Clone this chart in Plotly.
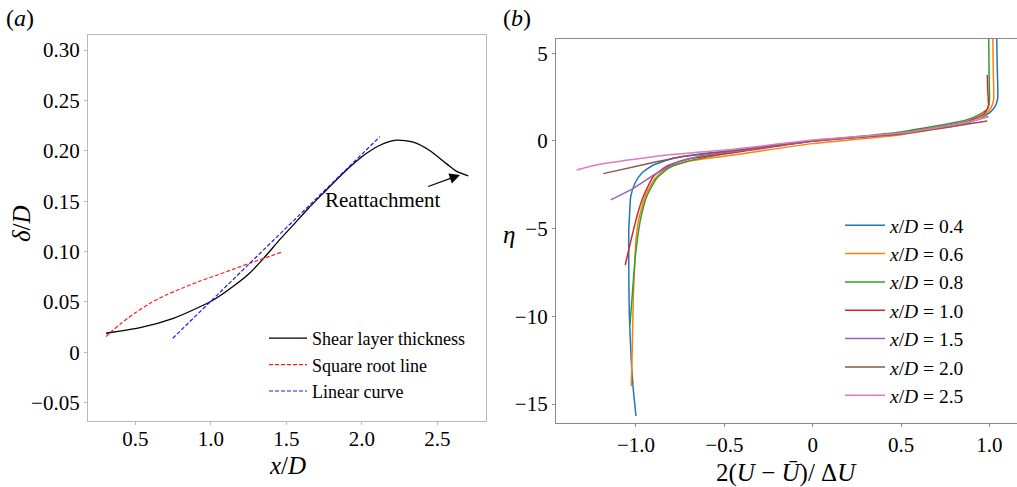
import plotly.graph_objects as go

# ---- Panel (a): shear layer thickness ----
thick_x = [0.306, 0.532, 0.752, 0.907, 1.017, 1.149, 1.26, 1.348, 1.458, 1.55,
           1.644, 1.745, 1.878, 1.96, 2.032, 2.12, 2.231, 2.341, 2.452, 2.562, 2.628, 2.705]
thick_y = [0.0189, 0.0244, 0.0337, 0.0437, 0.0519, 0.0655, 0.0790, 0.0930, 0.112, 0.127,
           0.1425, 0.158, 0.178, 0.189, 0.1975, 0.2055, 0.2105, 0.2085, 0.200, 0.187, 0.1795, 0.175]
sqrt_x = [0.306, 0.35, 0.399, 0.45, 0.5, 0.597, 0.7, 0.818, 0.92, 1.039, 1.15, 1.259, 1.37, 1.476]
sqrt_y = [0.0155, 0.0217, 0.0278, 0.0338, 0.0392, 0.0486, 0.0566, 0.0641, 0.0702, 0.0765,
          0.0825, 0.0885, 0.0942, 0.0998]
lin_x = [0.748, 2.12]
lin_y = [0.0139, 0.214]

a_xticks = [0.5, 1.0, 1.5, 2.0, 2.5]
a_xtext = ["0.5", "1.0", "1.5", "2.0", "2.5"]
a_yticks = [-0.05, 0, 0.05, 0.10, 0.15, 0.20, 0.25, 0.30]
a_ytext = ["\u22120.05", "0", "0.05", "0.10", "0.15", "0.20", "0.25", "0.30"]

# ---- Panel (b): normalised velocity profiles ----
labels_b = ["0.4", "0.6", "0.8", "1.0", "1.5", "2.0", "2.5"]
colors_b = ["#1f77b4", "#ff7f0e", "#2ca02c", "#d62728", "#9467bd", "#8c564b", "#e377c2"]

u_04 = [1.041, 1.045, 1.047, 1.032, 1.003, 0.966, 0.87, 0.5, 0.0, -0.449, -0.638, -0.789,
        -0.902, -0.968, -1.006, -1.03, -1.038, -1.041, -1.041, -1.038, -1.026, -1.015, -1.0]
eta_04 = [6.0, 4.0, 2.43, 1.96, 1.63, 1.39, 1.05, 0.46, 0.0, -0.55, -0.74, -0.99,
          -1.37, -1.84, -2.41, -3.18, -4.5, -5.07, -6.97, -9.82, -12.67, -14.2, -15.68]
u_06 = [1.019, 1.022, 1.024, 1.01, 0.98, 0.93, 0.87, 0.5, 0.0, -0.449, -0.713, -0.826,
        -0.892, -0.949, -0.985, -1.0, -1.007, -1.015, -1.023, -1.027]
eta_06 = [6.0, 4.0, 2.34, 1.9, 1.55, 1.25, 1.0, 0.36, -0.15, -0.80, -1.18, -1.56,
          -2.13, -3.18, -4.5, -5.64, -6.97, -8.87, -12.67, -13.97]
u_08 = [0.996, 0.998, 1.0, 0.99, 0.95, 0.87, 0.5, 0.0, -0.449, -0.694, -0.808, -0.883,
        -0.94, -0.975, -0.99, -1.004, -1.019, -1.034]
eta_08 = [6.0, 4.0, 2.3, 1.85, 1.55, 1.2, 0.52, 0.0, -0.65, -1.12, -1.5, -2.13,
          -3.18, -4.5, -5.46, -6.6, -8.5, -10.49]
u_10 = [0.988, 0.991, 0.994, 0.97, 0.87, 0.5, 0.0, -0.449, -0.713, -0.826, -0.902,
        -0.959, -0.99, -1.0, -1.028, -1.061]
eta_10 = [3.76, 2.8, 1.96, 1.55, 1.1, 0.45, -0.02, -0.67, -1.04, -1.43, -2.03,
          -3.18, -4.12, -4.5, -5.64, -7.07]
u_15 = [0.995, 0.87, 0.5, 0.0, -0.449, -0.638, -0.77, -0.883, -1.015, -1.143]
eta_15 = [1.4, 1.05, 0.43, 0.0, -0.61, -0.86, -1.24, -1.84, -2.70, -3.36]
u_20 = [0.988, 0.87, 0.5, 0.0, -0.449, -0.732, -0.921, -1.185]
eta_20 = [1.14, 0.95, 0.4, 0.02, -0.55, -0.89, -1.27, -1.86]
u_25 = [0.99, 0.87, 0.5, 0.0, -0.449, -0.826, -1.204, -1.336]
eta_25 = [1.4, 1.05, 0.45, 0.05, -0.47, -0.80, -1.33, -1.65]

profiles_u = [u_04, u_06, u_08, u_10, u_15, u_20, u_25]
profiles_eta = [eta_04, eta_06, eta_08, eta_10, eta_15, eta_20, eta_25]

b_xticks = [-1.0, -0.5, 0, 0.5, 1.0]
b_xtext = ["\u22121.0", "\u22120.5", "0", "0.5", "1.0"]
b_yticks = [-15, -10, -5, 0, 5]
b_ytext = ["\u221215", "\u221210", "\u22125", "0", "5"]

SERIF = "Liberation Serif, Times New Roman, serif"
W, H = 1017, 487

fig = go.Figure()

fig.add_trace(go.Scatter(x=thick_x, y=thick_y, mode="lines", name="Shear layer thickness",
                         line=dict(color="black", width=1.3, shape="spline", smoothing=0.7),
                         xaxis="x", yaxis="y", legend="legend", legendgroup="a1"))
fig.add_trace(go.Scatter(x=sqrt_x, y=sqrt_y, mode="lines", name="Square root line",
                         line=dict(color="#ff1a1a", width=1.2, dash="4px,2px",
                                   shape="spline", smoothing=0.7),
                         xaxis="x", yaxis="y", legend="legend", legendgroup="a2"))
fig.add_trace(go.Scatter(x=lin_x, y=lin_y, mode="lines", name="Linear curve",
                         line=dict(color="#1a1aff", width=1.2, dash="4px,2px"),
                         xaxis="x", yaxis="y", legend="legend", legendgroup="a3"))

for i, (u, eta) in enumerate(zip(profiles_u, profiles_eta)):
    fig.add_trace(go.Scatter(x=u, y=eta, mode="lines",
                             name=f"<i>x</i>/<i>D</i> = {labels_b[i]}",
                             line=dict(color=colors_b[i], width=1.5, shape="spline", smoothing=0.5),
                             xaxis="x2", yaxis="y2", legend="legend2", legendgroup=f"b{i}"))


def px_x(p):
    return p / W


def px_y(p):
    return 1 - p / H


axis_font = dict(family=SERIF, size=21, color="black")
grey_a = "#b8b8b8"
grey_b = "#8a8a8a"

fig.update_layout(
    width=W, height=H,
    margin=dict(l=0, r=0, t=0, b=0),
    paper_bgcolor="white", plot_bgcolor="white",
    font=dict(family=SERIF, color="black"),
    xaxis=dict(domain=[px_x(88), px_x(486)], range=[0.1868, 2.8225],
               tickvals=a_xticks, ticktext=a_xtext, tickfont=axis_font, ticklabelstandoff=-4,
               showgrid=False, zeroline=False, showline=True, linecolor=grey_a, linewidth=1.2,
               mirror=True, ticks="outside", ticklen=3, tickcolor=grey_a, anchor="y"),
    yaxis=dict(domain=[px_y(421), px_y(35)], range=[-0.0682, 0.3149],
               tickvals=a_yticks, ticktext=a_ytext, tickfont=axis_font,
               showgrid=False, zeroline=False, showline=True, linecolor=grey_a, linewidth=1.2,
               mirror=True, ticks="outside", ticklen=3, tickcolor=grey_a, anchor="x"),
    xaxis2=dict(domain=[px_x(556), 1.0], range=[-1.4527, 1.1562],
                tickvals=b_xticks, ticktext=b_xtext, tickfont=axis_font,
                showgrid=False, zeroline=False, showline=True, linecolor=grey_b, linewidth=1.2,
                mirror=True, ticks="outside", ticklen=3, tickcolor=grey_b, anchor="y2"),
    yaxis2=dict(domain=[px_y(423), px_y(39)], range=[-16.08, 5.815],
                tickvals=b_yticks, ticktext=b_ytext, tickfont=axis_font,
                showgrid=False, zeroline=False, showline=True, linecolor=grey_b, linewidth=1.2,
                mirror=False, ticks="outside", ticklen=3, tickcolor=grey_b, anchor="x2"),
    legend=dict(x=px_x(264), y=px_y(320), xanchor="left", yanchor="top",
                bgcolor="rgba(0,0,0,0)", borderwidth=0, traceorder="grouped",
                tracegroupgap=0, itemwidth=38,
                font=dict(family=SERIF, size=18, color="black")),
    legend2=dict(x=px_x(840), y=px_y(206), xanchor="left", yanchor="top",
                 bgcolor="rgba(0,0,0,0)", borderwidth=0, traceorder="grouped",
                 tracegroupgap=0, itemwidth=40,
                 font=dict(family=SERIF, size=19.5, color="black")),
    showlegend=True,
)

ann = []
# panel tags
ann.append(dict(text="(<i>a</i>)", x=px_x(4), y=px_y(18), xref="paper", yref="paper",
                xanchor="left", yanchor="middle", showarrow=False,
                font=dict(family=SERIF, size=24, color="black")))
ann.append(dict(text="(<i>b</i>)", x=px_x(501), y=px_y(18), xref="paper", yref="paper",
                xanchor="left", yanchor="middle", showarrow=False,
                font=dict(family=SERIF, size=24, color="black")))
# axis titles
ann.append(dict(text="<i>x</i>/<i>D</i>", x=px_x(287), y=px_y(465), xref="paper", yref="paper",
                xanchor="center", yanchor="middle", showarrow=False,
                font=dict(family=SERIF, size=25, color="black")))
ann.append(dict(text="<i>\u03b4</i>/<i>D</i>", x=px_x(22), y=px_y(224), xref="paper", yref="paper",
                xanchor="center", yanchor="middle", showarrow=False, textangle=-90,
                font=dict(family=SERIF, size=25, color="black")))
ann.append(dict(text="2(<i>U</i> \u2212 <i>\u016a</i>)/ \u0394<i>U</i>", x=px_x(786), y=px_y(473),
                xref="paper", yref="paper", xanchor="center", yanchor="middle", showarrow=False,
                font=dict(family=SERIF, size=25, color="black")))
ann.append(dict(text="<i>\u03b7</i>", x=px_x(509), y=px_y(234), xref="paper", yref="paper",
                xanchor="center", yanchor="middle", showarrow=False,
                font=dict(family=SERIF, size=25, color="black")))
# reattachment marker
ann.append(dict(text="Reattachment", x=2.14, y=0.151, xref="x", yref="y",
                xanchor="center", yanchor="middle", showarrow=False,
                font=dict(family=SERIF, size=21, color="black")))
ann.append(dict(text="", x=2.65, y=0.176, ax=2.43, ay=0.164, xref="x", yref="y",
                axref="x", ayref="y", showarrow=True, arrowhead=2, arrowsize=1.6,
                arrowwidth=1.3, arrowcolor="black", standoff=0, startstandoff=0))
fig.update_layout(annotations=ann)

fig.write_html("out.html")
